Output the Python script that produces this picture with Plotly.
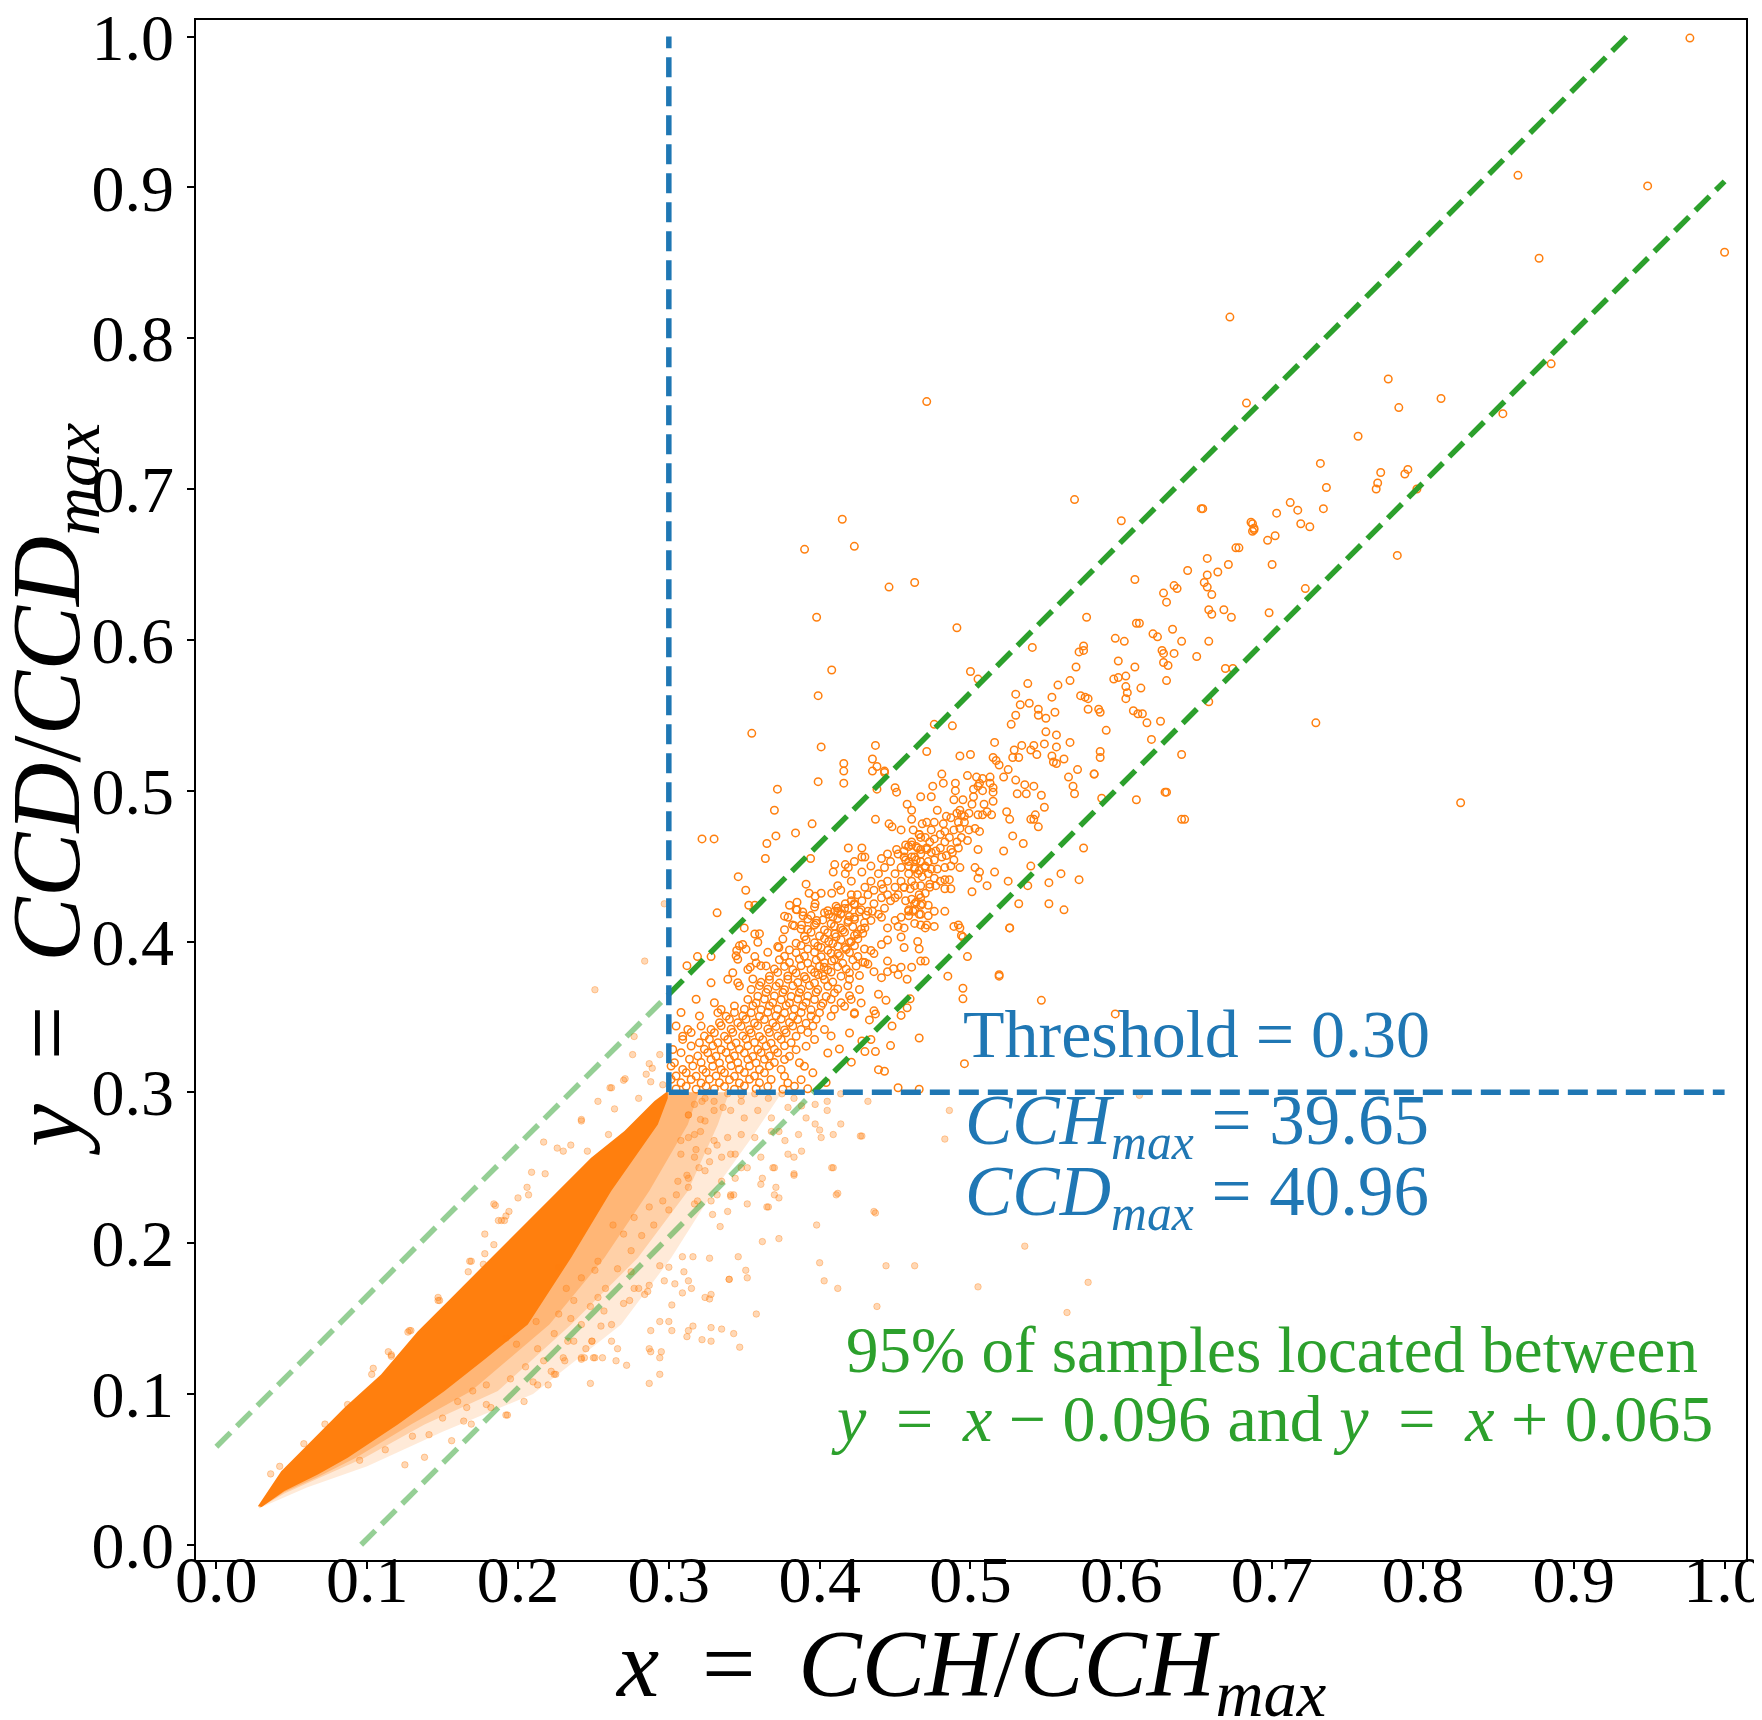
import plotly.graph_objects as go

ORANGE = '#ff7f0e'
BLUE = '#1f77b4'
GREEN = '#2ca02c'
FONT = 'Liberation Serif'
TS = '\u2009'  # thin space, for the wider math spacing

threshold = 0.30
cch_max = 39.65
ccd_max = 40.96
band_low = -0.096
band_high = 0.065
x_end = 1.0

tick_vals = [0.0, 0.1, 0.2, 0.3, 0.4, 0.5, 0.6, 0.7, 0.8, 0.9, 1.0]
tick_text = ['0.0', '0.1', '0.2', '0.3', '0.4', '0.5', '0.6', '0.7', '0.8', '0.9', '1.0']

# samples above the threshold (hollow markers)
upper_outliers = [
    (0.977, 0.999), (0.863, 0.908), (0.949, 0.901), (0.877, 0.853), (1.0, 0.857), (0.672, 0.814),
    (0.885, 0.783), (0.777, 0.773), (0.812, 0.760), (0.683, 0.757), (0.471, 0.758), (0.853, 0.750),
    (0.784, 0.754), (0.757, 0.735), (0.732, 0.717), (0.772, 0.711), (0.770, 0.704), (0.769, 0.700),
    (0.790, 0.713), (0.788, 0.710), (0.796, 0.700), (0.783, 0.656), (0.736, 0.701), (0.734, 0.687),
    (0.712, 0.691), (0.717, 0.686), (0.725, 0.675), (0.719, 0.677), (0.703, 0.684), (0.687, 0.672),
    (0.676, 0.661), (0.702, 0.669), (0.687, 0.677), (0.722, 0.634), (0.700, 0.650), (0.698, 0.618),
    (0.673, 0.615), (0.654, 0.687), (0.674, 0.581), (0.729, 0.545), (0.825, 0.492), (0.610, 0.494),
    (0.569, 0.693), (0.600, 0.679), (0.653, 0.687), (0.686, 0.678), (0.688, 0.674), (0.688, 0.673),
    (0.697, 0.666), (0.678, 0.661), (0.415, 0.680), (0.390, 0.660), (0.423, 0.662), (0.446, 0.635),
    (0.463, 0.638), (0.398, 0.615), (0.491, 0.608), (0.408, 0.580), (0.399, 0.563), (0.355, 0.538),
    (0.596, 0.352), (0.496, 0.319), (0.485, 0.377), (0.495, 0.369), (0.495, 0.362), (0.519, 0.377),
    (0.547, 0.361), (0.519, 0.378), (0.526, 0.409), (0.452, 0.303), (0.466, 0.302), (0.466, 0.336),
]

upper_mid = [
    (0.657, 0.654), (0.657, 0.643), (0.664, 0.645), (0.671, 0.650), (0.644, 0.646), (0.655, 0.638),
    (0.657, 0.635), (0.660, 0.630), (0.635, 0.636), (0.637, 0.634), (0.628, 0.631), (0.630, 0.625),
    (0.609, 0.640), (0.577, 0.615), (0.658, 0.620), (0.660, 0.617), (0.668, 0.620), (0.610, 0.611),
    (0.612, 0.611), (0.621, 0.604), (0.624, 0.602), (0.634, 0.607), (0.596, 0.601), (0.602, 0.599),
    (0.640, 0.599), (0.658, 0.599), (0.627, 0.593), (0.628, 0.591), (0.635, 0.591), (0.650, 0.589),
    (0.628, 0.585), (0.631, 0.583), (0.630, 0.573), (0.669, 0.581), (0.658, 0.559), (0.575, 0.596),
    (0.575, 0.593), (0.572, 0.592), (0.570, 0.582), (0.598, 0.586), (0.609, 0.582), (0.595, 0.574),
    (0.598, 0.575), (0.603, 0.576), (0.603, 0.569), (0.604, 0.565), (0.603, 0.561), (0.613, 0.568),
    (0.608, 0.553), (0.611, 0.551), (0.614, 0.551), (0.617, 0.545), (0.626, 0.546), (0.620, 0.534),
    (0.590, 0.540), (0.585, 0.554), (0.586, 0.552), (0.578, 0.554), (0.573, 0.563), (0.576, 0.562),
    (0.578, 0.561), (0.566, 0.573), (0.558, 0.570), (0.554, 0.562), (0.556, 0.552), (0.550, 0.539),
    (0.557, 0.537), (0.566, 0.532), (0.571, 0.514), (0.582, 0.511), (0.586, 0.526), (0.586, 0.522),
    (0.640, 0.524), (0.629, 0.499), (0.640, 0.481), (0.587, 0.495), (0.568, 0.503), (0.569, 0.498),
    (0.565, 0.509), (0.547, 0.497), (0.549, 0.489), (0.542, 0.481), (0.630, 0.499), (0.642, 0.481),
    (0.541, 0.595), (0.538, 0.571), (0.533, 0.557), (0.539, 0.558), (0.530, 0.564), (0.527, 0.544),
    (0.530, 0.550), (0.545, 0.554), (0.545, 0.550), (0.550, 0.548), (0.549, 0.531), (0.557, 0.529),
    (0.554, 0.523), (0.555, 0.519), (0.562, 0.521), (0.557, 0.518), (0.542, 0.530), (0.540, 0.527),
    (0.544, 0.524), (0.534, 0.530), (0.532, 0.522), (0.529, 0.527), (0.528, 0.522), (0.519, 0.517),
    (0.517, 0.520), (0.516, 0.532), (0.525, 0.514), (0.522, 0.509), (0.530, 0.507), (0.536, 0.504),
    (0.542, 0.503), (0.537, 0.498), (0.531, 0.498), (0.543, 0.484), (0.540, 0.481), (0.524, 0.486),
    (0.526, 0.481), (0.401, 0.529), (0.437, 0.530), (0.435, 0.521), (0.416, 0.518), (0.416, 0.513),
    (0.416, 0.505), (0.435, 0.513), (0.438, 0.516), (0.399, 0.506), (0.372, 0.501), (0.370, 0.487),
    (0.395, 0.478), (0.443, 0.512), (0.450, 0.502), (0.451, 0.499), (0.471, 0.526), (0.476, 0.544),
    (0.488, 0.543), (0.500, 0.579), (0.505, 0.574), (0.493, 0.523), (0.500, 0.524), (0.481, 0.511),
    (0.475, 0.503), (0.482, 0.505), (0.467, 0.496), (0.474, 0.496), (0.458, 0.491), (0.461, 0.487),
    (0.478, 0.487), (0.490, 0.505), (0.490, 0.500), (0.498, 0.510), (0.504, 0.509), (0.508, 0.508),
    (0.513, 0.509), (0.506, 0.505), (0.513, 0.505), (0.515, 0.502), (0.515, 0.499), (0.508, 0.500),
    (0.502, 0.501), (0.502, 0.496), (0.495, 0.494), (0.501, 0.491), (0.499, 0.485), (0.496, 0.483),
    (0.509, 0.491), (0.515, 0.493), (0.511, 0.486), (0.505, 0.484), (0.508, 0.484), (0.492, 0.479),
    (0.493, 0.487), (0.582, 0.511), (0.443, 0.513), (0.371, 0.470), (0.384, 0.472), (0.322, 0.468),
    (0.330, 0.468), (0.365, 0.465), (0.364, 0.455), (0.394, 0.455), (0.437, 0.481), (0.446, 0.478),
    (0.448, 0.476), (0.454, 0.474), (0.461, 0.481), (0.462, 0.474), (0.466, 0.471), (0.467, 0.469),
    (0.419, 0.462), (0.428, 0.462), (0.428, 0.456), (0.346, 0.443), (0.351, 0.434), (0.332, 0.419),
    (0.353, 0.424), (0.357, 0.424), (0.350, 0.409), (0.357, 0.405), (0.345, 0.394), (0.349, 0.398),
    (0.328, 0.390), (0.312, 0.384), (0.319, 0.390), (0.354, 0.383), (0.357, 0.390), (0.361, 0.384),
    (0.572, 0.441), (0.552, 0.439), (0.538, 0.437), (0.552, 0.425), (0.562, 0.421), (0.526, 0.409),
    (0.498, 0.390), (0.492, 0.411), (0.493, 0.409), (0.495, 0.403), (0.466, 0.395), (0.470, 0.387),
    (0.522, 0.460), (0.535, 0.465), (0.540, 0.450), (0.525, 0.440), (0.532, 0.425), (0.560, 0.445),
    (0.575, 0.462), (0.528, 0.470), (0.545, 0.476), (0.438, 0.501), (0.515, 0.522),
]

# band of samples between 0.45 and 0.52
upper_band = [
    (0.489, 0.494), (0.505, 0.503), (0.514, 0.484), (0.494, 0.484), (0.491, 0.485), (0.487, 0.482),
    (0.484, 0.483), (0.482, 0.478), (0.476, 0.479), (0.474, 0.474), (0.471, 0.479), (0.468, 0.478),
    (0.466, 0.471), (0.470, 0.469), (0.473, 0.466), (0.476, 0.468), (0.480, 0.471), (0.483, 0.473),
    (0.486, 0.469), (0.489, 0.474), (0.493, 0.475), (0.496, 0.479), (0.499, 0.474), (0.503, 0.475),
    (0.506, 0.473), (0.498, 0.467), (0.494, 0.469), (0.491, 0.466), (0.487, 0.461), (0.483, 0.466),
    (0.480, 0.462), (0.477, 0.460), (0.474, 0.459), (0.471, 0.461), (0.467, 0.461), (0.464, 0.463),
    (0.461, 0.466), (0.459, 0.463), (0.456, 0.460), (0.457, 0.454), (0.461, 0.456), (0.464, 0.454),
    (0.467, 0.453), (0.472, 0.453), (0.476, 0.454), (0.481, 0.456), (0.484, 0.457), (0.488, 0.459),
    (0.492, 0.462), (0.489, 0.454), (0.493, 0.449), (0.487, 0.450), (0.483, 0.449), (0.478, 0.448),
    (0.474, 0.448), (0.470, 0.450), (0.466, 0.447), (0.463, 0.448), (0.459, 0.450), (0.468, 0.443),
    (0.472, 0.445), (0.476, 0.442), (0.480, 0.440), (0.483, 0.441), (0.486, 0.441), (0.487, 0.435),
    (0.483, 0.435), (0.477, 0.437), (0.473, 0.438), (0.470, 0.432), (0.466, 0.431), (0.467, 0.437),
    (0.463, 0.437), (0.460, 0.435), (0.456, 0.436), (0.461, 0.428), (0.464, 0.426), (0.467, 0.424),
    (0.472, 0.424), (0.476, 0.420), (0.472, 0.417), (0.466, 0.418), (0.462, 0.420), (0.459, 0.421),
    (0.457, 0.427), (0.463, 0.412), (0.467, 0.411), (0.471, 0.411), (0.476, 0.410), (0.483, 0.420),
    (0.489, 0.410), (0.494, 0.404), (0.501, 0.433), (0.503, 0.449), (0.506, 0.446), (0.505, 0.442),
    (0.511, 0.437), (0.516, 0.446), (0.505, 0.461),
]

# densest part just above the threshold corner, read row by row
upper_rows = [
    [(0.380, 0.424), (0.3844, 0.4212), (0.3966, 0.4228), (0.4054, 0.4204), (0.4109, 0.4234),
     (0.4165, 0.4219), (0.4231, 0.4244), (0.4275, 0.421)],
    [(0.3767, 0.4168), (0.3888, 0.4196), (0.3943, 0.4172), (0.4032, 0.4191), (0.4087, 0.4162),
     (0.4142, 0.4186), (0.4198, 0.4166), (0.4264, 0.4197), (0.4308, 0.4174)],
    [(0.3921, 0.4149), (0.3977, 0.4121), (0.4021, 0.4143), (0.4076, 0.4118), (0.412, 0.4152),
     (0.4187, 0.4127), (0.4231, 0.4146), (0.4297, 0.4124)],
    [(0.3767, 0.4078), (0.3833, 0.4104), (0.3877, 0.4083), (0.3966, 0.4109), (0.4032, 0.4077),
     (0.4098, 0.4101), (0.4153, 0.4075), (0.422, 0.4098), (0.4275, 0.4082)],
    [(0.3601, 0.4052), (0.3899, 0.4033), (0.3943, 0.4061), (0.3999, 0.4036), (0.4054, 0.4058),
     (0.4109, 0.4031), (0.4165, 0.4062), (0.4231, 0.4039), (0.4286, 0.4055)],
    [(0.359, 0.3995), (0.3756, 0.4016), (0.3844, 0.3989), (0.391, 0.4012), (0.3966, 0.3991),
     (0.4032, 0.4019), (0.4087, 0.3987), (0.4142, 0.4011), (0.4198, 0.3993), (0.4253, 0.4017)],
    [(0.3468, 0.3971), (0.3512, 0.3948), (0.3722, 0.3966), (0.380, 0.3944), (0.3877, 0.3973),
     (0.3921, 0.3951), (0.3988, 0.3968), (0.4054, 0.3942), (0.412, 0.3969), (0.4176, 0.3947),
     (0.4231, 0.3972), (0.4297, 0.395)],
    [(0.3446, 0.3905), (0.3656, 0.3928), (0.3767, 0.3902), (0.3844, 0.3925), (0.3899, 0.3903),
     (0.3966, 0.3929), (0.401, 0.3899), (0.4076, 0.3922), (0.4131, 0.3906), (0.4198, 0.3927),
     (0.4253, 0.3901)],
    [(0.3457, 0.3882), (0.3579, 0.3858), (0.3733, 0.3879), (0.380, 0.3861), (0.3866, 0.3884),
     (0.3921, 0.3856), (0.3977, 0.3877), (0.4032, 0.3859), (0.4098, 0.3883), (0.4153, 0.3855),
     (0.422, 0.3878), (0.4286, 0.3862)],
    [(0.3524, 0.3814), (0.3645, 0.3838), (0.370, 0.3817), (0.3767, 0.3835), (0.3822, 0.3812),
     (0.3877, 0.3839), (0.3943, 0.3815), (0.3999, 0.3836), (0.4054, 0.3811), (0.412, 0.3833),
     (0.4176, 0.3818), (0.4242, 0.3837)],
    [(0.3424, 0.3793), (0.3667, 0.3769), (0.3722, 0.3795), (0.3789, 0.3771), (0.3844, 0.3791),
     (0.3899, 0.3768), (0.3966, 0.3794), (0.4021, 0.3773), (0.4076, 0.3797), (0.4142, 0.377),
     (0.4198, 0.3792), (0.4264, 0.3774)],
    [(0.328, 0.3726), (0.3391, 0.3749), (0.3457, 0.3727), (0.3557, 0.3751), (0.3612, 0.3729),
     (0.3667, 0.3747), (0.3733, 0.3724), (0.3789, 0.375), (0.3855, 0.3728), (0.391, 0.3752),
     (0.3966, 0.3725), (0.4032, 0.3748), (0.4087, 0.3731), (0.4198, 0.3749)],
    [(0.3468, 0.3705), (0.3546, 0.3682), (0.3601, 0.3707), (0.3656, 0.3684), (0.3711, 0.3704),
     (0.3767, 0.368), (0.3822, 0.3706), (0.3877, 0.3683), (0.3932, 0.3708), (0.3988, 0.3681),
     (0.4054, 0.3703), (0.412, 0.3685), (0.4187, 0.3706), (0.4264, 0.3682)],
    [(0.359, 0.3637), (0.3645, 0.3661), (0.370, 0.3639), (0.3756, 0.3662), (0.3811, 0.3636),
     (0.3866, 0.366), (0.3921, 0.3638), (0.3977, 0.3663), (0.4043, 0.3635), (0.4098, 0.3659),
     (0.4198, 0.364)],
    [(0.3181, 0.3617), (0.3302, 0.3594), (0.3524, 0.3616), (0.3579, 0.3593), (0.3634, 0.3618),
     (0.3689, 0.3595), (0.3745, 0.3614), (0.380, 0.3592), (0.3855, 0.3619), (0.391, 0.3596),
     (0.3966, 0.3615), (0.4021, 0.3591), (0.4076, 0.3617), (0.4142, 0.3594), (0.4209, 0.3616),
     (0.4275, 0.3593)],
    [(0.3347, 0.3549), (0.3435, 0.3573), (0.3501, 0.3551), (0.3557, 0.3574), (0.3612, 0.3548),
     (0.3667, 0.3572), (0.3722, 0.355), (0.3778, 0.3575), (0.3833, 0.3552), (0.3888, 0.3571),
     (0.3943, 0.3547), (0.401, 0.3573), (0.4098, 0.3551), (0.4165, 0.357)],
    [(0.3081, 0.3529), (0.3203, 0.3506), (0.3325, 0.3528), (0.338, 0.3505), (0.3435, 0.353),
     (0.349, 0.3507), (0.3546, 0.3527), (0.3601, 0.3504), (0.3656, 0.3531), (0.3711, 0.3508),
     (0.3767, 0.3526), (0.3822, 0.3503), (0.3877, 0.3529), (0.3943, 0.3506), (0.3999, 0.3528),
     (0.4076, 0.3505), (0.4231, 0.3527)],
    [(0.3336, 0.3461), (0.3402, 0.3484), (0.3457, 0.3462), (0.3512, 0.3485), (0.3568, 0.3459),
     (0.3634, 0.3483), (0.3689, 0.346), (0.3745, 0.3486), (0.380, 0.3463), (0.3855, 0.3482),
     (0.391, 0.3458), (0.3977, 0.3484)],
    [(0.3048, 0.344), (0.3126, 0.3417), (0.3214, 0.3439), (0.328, 0.3416), (0.3347, 0.3441),
     (0.3413, 0.3418), (0.3479, 0.3438), (0.3535, 0.3415), (0.359, 0.3442), (0.3656, 0.3419),
     (0.3711, 0.3437), (0.3767, 0.3414), (0.3822, 0.344), (0.3877, 0.3417), (0.3955, 0.3439),
     (0.4032, 0.3416)],
    [(0.3092, 0.3372), (0.3148, 0.3396), (0.3236, 0.3373), (0.3302, 0.3395), (0.3369, 0.3371),
     (0.3424, 0.3397), (0.349, 0.3374), (0.3546, 0.3394), (0.3601, 0.337), (0.3667, 0.3396),
     (0.3722, 0.3373), (0.3778, 0.3395), (0.3844, 0.3372), (0.3921, 0.3397), (0.4076, 0.3374),
     (0.4198, 0.3393)],
    [(0.3092, 0.3351), (0.3203, 0.3328), (0.3269, 0.3352), (0.3325, 0.3329), (0.3391, 0.335),
     (0.3446, 0.3327), (0.3512, 0.3353), (0.3568, 0.333), (0.3623, 0.3349), (0.3678, 0.3326),
     (0.3745, 0.3351), (0.3811, 0.3328), (0.3966, 0.335)],
    [(0.3026, 0.3284), (0.3148, 0.3307), (0.3236, 0.3285), (0.3291, 0.3308), (0.3347, 0.3283),
     (0.3413, 0.3306), (0.3468, 0.3286), (0.3524, 0.3309), (0.359, 0.3284), (0.3645, 0.3307),
     (0.370, 0.3285), (0.3767, 0.3308), (0.3844, 0.3283), (0.391, 0.3306), (0.4131, 0.3287)],
    [(0.3081, 0.3263), (0.3192, 0.324), (0.3258, 0.3262), (0.3313, 0.3239), (0.338, 0.3264),
     (0.3435, 0.3241), (0.3501, 0.3261), (0.3557, 0.3238), (0.3612, 0.3263), (0.3667, 0.324),
     (0.3722, 0.3262), (0.380, 0.3239), (0.4054, 0.3261)],
    [(0.3037, 0.3196), (0.3137, 0.3219), (0.3214, 0.3197), (0.328, 0.3218), (0.3336, 0.3195),
     (0.3402, 0.322), (0.3457, 0.3196), (0.3524, 0.3218), (0.3579, 0.3195), (0.3634, 0.3219),
     (0.370, 0.3197), (0.3767, 0.3217), (0.3866, 0.3196)],
    [(0.3015, 0.3174), (0.3092, 0.3151), (0.3159, 0.3175), (0.3225, 0.3152), (0.3291, 0.3173),
     (0.3347, 0.315), (0.3413, 0.3176), (0.3468, 0.3153), (0.3535, 0.3174), (0.3601, 0.3151),
     (0.3667, 0.3175), (0.3745, 0.3152), (0.3899, 0.3173)],
    [(0.3048, 0.3108), (0.3115, 0.313), (0.3181, 0.3107), (0.3247, 0.3131), (0.3313, 0.3109),
     (0.3369, 0.3129), (0.3435, 0.3106), (0.3501, 0.3131), (0.3568, 0.3108), (0.3634, 0.313),
     (0.3767, 0.3107), (0.3955, 0.3129)],
    [(0.3015, 0.3086), (0.3081, 0.3063), (0.3148, 0.3085), (0.3214, 0.3062), (0.3269, 0.3087),
     (0.3336, 0.3064), (0.3402, 0.3084), (0.3468, 0.3061), (0.3535, 0.3086), (0.3601, 0.3063),
     (0.3678, 0.3085), (0.3789, 0.3062), (0.3877, 0.3084), (0.4043, 0.3065)],
    [(0.3048, 0.3022), (0.3115, 0.304), (0.3181, 0.3021), (0.3247, 0.3041), (0.3302, 0.3023),
     (0.3369, 0.3039), (0.3435, 0.302), (0.3501, 0.3042), (0.3579, 0.3024), (0.3656, 0.3038),
     (0.3756, 0.3021), (0.3833, 0.304), (0.3921, 0.3023)],
]

upper_dense = [
    (0.379, 0.416), (0.382, 0.411), (0.388, 0.411), (0.392, 0.408), (0.398, 0.414), (0.373, 0.396),
    (0.385, 0.426), (0.385, 0.421), (0.391, 0.438), (0.393, 0.432), (0.397, 0.425), (0.397, 0.430),
    (0.401, 0.432), (0.408, 0.432), (0.409, 0.446), (0.412, 0.437), (0.417, 0.445), (0.417, 0.451),
    (0.389, 0.417), (0.406, 0.418), (0.410, 0.420), (0.414, 0.418), (0.419, 0.422), (0.423, 0.425),
    (0.428, 0.427), (0.432, 0.431), (0.436, 0.434), (0.441, 0.438), (0.445, 0.440), (0.450, 0.445),
    (0.454, 0.449), (0.459, 0.453), (0.463, 0.456), (0.467, 0.458), (0.470, 0.449), (0.465, 0.445),
    (0.461, 0.440), (0.456, 0.436), (0.452, 0.431), (0.447, 0.427), (0.443, 0.422), (0.439, 0.418),
    (0.434, 0.414), (0.430, 0.409), (0.425, 0.405), (0.421, 0.400), (0.417, 0.396), (0.412, 0.392),
    (0.408, 0.387), (0.403, 0.383), (0.399, 0.378), (0.401, 0.396), (0.406, 0.400), (0.410, 0.405),
    (0.414, 0.409), (0.419, 0.414), (0.423, 0.416), (0.432, 0.420), (0.436, 0.425), (0.441, 0.429),
    (0.445, 0.431), (0.450, 0.436), (0.454, 0.440), (0.459, 0.445), (0.463, 0.449), (0.467, 0.453),
    (0.471, 0.462), (0.465, 0.462), (0.461, 0.464), (0.456, 0.456), (0.452, 0.458), (0.447, 0.453),
    (0.443, 0.449), (0.439, 0.445), (0.434, 0.440), (0.430, 0.436), (0.425, 0.431), (0.421, 0.427),
    (0.417, 0.425), (0.412, 0.422), (0.414, 0.434), (0.421, 0.440), (0.428, 0.446), (0.434, 0.450),
    (0.441, 0.455), (0.445, 0.458), (0.451, 0.461), (0.457, 0.464), (0.423, 0.453), (0.430, 0.456),
    (0.419, 0.449), (0.410, 0.451), (0.445, 0.409), (0.450, 0.414), (0.454, 0.416), (0.459, 0.420),
    (0.463, 0.425), (0.467, 0.429), (0.454, 0.403), (0.456, 0.409), (0.467, 0.418), (0.441, 0.398),
    (0.436, 0.392), (0.432, 0.385), (0.445, 0.387), (0.456, 0.396), (0.465, 0.400), (0.470, 0.409),
    (0.467, 0.387), (0.461, 0.383), (0.452, 0.378), (0.433, 0.348), (0.437, 0.352), (0.448, 0.344),
    (0.423, 0.352), (0.434, 0.335), (0.437, 0.327), (0.428, 0.334), (0.439, 0.315), (0.443, 0.314),
    (0.430, 0.327), (0.421, 0.320), (0.447, 0.331), (0.454, 0.351), (0.458, 0.356), (0.460, 0.362),
    (0.458, 0.375), (0.439, 0.365), (0.444, 0.361), (0.436, 0.354), (0.445, 0.380), (0.449, 0.382),
    (0.454, 0.383), (0.441, 0.376), (0.436, 0.380), (0.430, 0.386), (0.434, 0.394), (0.445, 0.401),
    (0.441, 0.416), (0.452, 0.410), (0.459, 0.417), (0.463, 0.421), (0.473, 0.436), (0.468, 0.425),
    (0.450, 0.429), (0.442, 0.435), (0.435, 0.420), (0.421, 0.431), (0.412, 0.420),
]

# samples below the threshold (faint filled markers)
lower_fringe = [
    (0.317, 0.292), (0.324, 0.296), (0.330, 0.294), (0.339, 0.299), (0.348, 0.298), (0.357, 0.299),
    (0.366, 0.296), (0.375, 0.299), (0.383, 0.296), (0.313, 0.285), (0.321, 0.282), (0.330, 0.288),
    (0.341, 0.288), (0.350, 0.283), (0.359, 0.288), (0.368, 0.283), (0.379, 0.290), (0.388, 0.291),
    (0.397, 0.292), (0.405, 0.294), (0.414, 0.299), (0.313, 0.270), (0.321, 0.274), (0.330, 0.268),
    (0.339, 0.270), (0.348, 0.272), (0.357, 0.270), (0.368, 0.274), (0.377, 0.268), (0.386, 0.272),
    (0.397, 0.279), (0.405, 0.288), (0.308, 0.259), (0.317, 0.257), (0.326, 0.261), (0.335, 0.257),
    (0.344, 0.259), (0.352, 0.250), (0.361, 0.257), (0.370, 0.250), (0.379, 0.259), (0.388, 0.261),
    (0.401, 0.270), (0.408, 0.250), (0.414, 0.279), (0.428, 0.271), (0.432, 0.294), (0.486, 0.288),
    (0.313, 0.243), (0.324, 0.248), (0.335, 0.241), (0.344, 0.243), (0.361, 0.239), (0.370, 0.232),
    (0.383, 0.245), (0.411, 0.232), (0.436, 0.221), (0.341, 0.231), (0.352, 0.226), (0.319, 0.228),
    (0.339, 0.221), (0.366, 0.224), (0.612, 0.298), (0.483, 0.269), (0.427, 0.271), (0.409, 0.250),
    (0.412, 0.233), (0.437, 0.220), (0.383, 0.246), (0.373, 0.203), (0.400, 0.187), (0.403, 0.175),
    (0.536, 0.198), (0.505, 0.171), (0.578, 0.174), (0.564, 0.154), (0.463, 0.185), (0.444, 0.185),
    (0.438, 0.158), (0.412, 0.170), (0.362, 0.201), (0.365, 0.224), (0.398, 0.212), (0.351, 0.182),
    (0.340, 0.176), (0.358, 0.153), (0.346, 0.191), (0.343, 0.232), (0.373, 0.230), (0.371, 0.237),
    (0.362, 0.243), (0.383, 0.257), (0.369, 0.250), (0.373, 0.274), (0.391, 0.283), (0.400, 0.275),
    (0.409, 0.272), (0.341, 0.232), (0.328, 0.228), (0.329, 0.219), (0.334, 0.211), (0.309, 0.191),
    (0.316, 0.191), (0.327, 0.190), (0.294, 0.185), (0.300, 0.184), (0.340, 0.176), (0.352, 0.177),
    (0.328, 0.166), (0.327, 0.163), (0.304, 0.173), (0.309, 0.167), (0.313, 0.175), (0.287, 0.172),
    (0.284, 0.166), (0.277, 0.170), (0.274, 0.162), (0.294, 0.148), (0.288, 0.142), (0.300, 0.148),
    (0.316, 0.145), (0.328, 0.144), (0.312, 0.138), (0.322, 0.136), (0.335, 0.143), (0.343, 0.140),
    (0.347, 0.131), (0.287, 0.130), (0.294, 0.124), (0.262, 0.135), (0.266, 0.130), (0.256, 0.124),
    (0.265, 0.122), (0.272, 0.119), (0.242, 0.123), (0.245, 0.130), (0.249, 0.135), (0.287, 0.107),
    (0.294, 0.113), (0.225, 0.113), (0.248, 0.107), (0.242, 0.177), (0.251, 0.182), (0.253, 0.188),
    (0.227, 0.184), (0.232, 0.170), (0.237, 0.162), (0.253, 0.164), (0.263, 0.212), (0.270, 0.206),
    (0.277, 0.217), (0.287, 0.224), (0.296, 0.228), (0.306, 0.241), (0.313, 0.237), (0.320, 0.250),
    (0.327, 0.254), (0.317, 0.226), (0.332, 0.232), (0.308, 0.268), (0.317, 0.272), (0.332, 0.265),
    (0.341, 0.259), (0.348, 0.250), (0.313, 0.285), (0.324, 0.281), (0.336, 0.290), (0.348, 0.294),
    (0.322, 0.294), (0.251, 0.368), (0.284, 0.387), (0.297, 0.425), (0.277, 0.337), (0.276, 0.325),
    (0.289, 0.316), (0.287, 0.319), (0.294, 0.325), (0.285, 0.312), (0.296, 0.305), (0.270, 0.308),
    (0.261, 0.303), (0.253, 0.294), (0.242, 0.281), (0.230, 0.261), (0.218, 0.246), (0.206, 0.237),
    (0.194, 0.221), (0.187, 0.215), (0.178, 0.206), (0.168, 0.188), (0.147, 0.162), (0.128, 0.142),
    (0.114, 0.128), (0.104, 0.117), (0.185, 0.225), (0.189, 0.215), (0.192, 0.218), (0.178, 0.193),
    (0.169, 0.188), (0.177, 0.186), (0.148, 0.162), (0.127, 0.141), (0.116, 0.125), (0.192, 0.137),
    (0.199, 0.133), (0.217, 0.122), (0.222, 0.115), (0.230, 0.124), (0.242, 0.124), (0.250, 0.124),
    (0.237, 0.135), (0.220, 0.106), (0.192, 0.086), (0.179, 0.093), (0.166, 0.091), (0.164, 0.082),
    (0.179, 0.106), (0.141, 0.073), (0.233, 0.135), (0.212, 0.148), (0.227, 0.153), (0.242, 0.146),
    (0.195, 0.110), (0.205, 0.118), (0.213, 0.130), (0.224, 0.140), (0.235, 0.150), (0.248, 0.158),
    (0.258, 0.170), (0.266, 0.183), (0.275, 0.195), (0.282, 0.205), (0.290, 0.212), (0.300, 0.222),
    (0.305, 0.232), (0.312, 0.245), (0.318, 0.262), (0.160, 0.095), (0.170, 0.102), (0.150, 0.084),
    (0.130, 0.072), (0.112, 0.063), (0.095, 0.056), (0.210, 0.108), (0.255, 0.145), (0.270, 0.160),
    (0.184, 0.226), (0.191, 0.215), (0.200, 0.230), (0.207, 0.232), (0.209, 0.247), (0.217, 0.267),
    (0.226, 0.263), (0.235, 0.265), (0.242, 0.282), (0.246, 0.261), (0.260, 0.272), (0.262, 0.303),
    (0.271, 0.309), (0.280, 0.296), (0.288, 0.307), (0.264, 0.289), (0.275, 0.181), (0.280, 0.170),
    (0.286, 0.168), (0.297, 0.175), (0.302, 0.159), (0.310, 0.181), (0.315, 0.170), (0.324, 0.164),
    (0.328, 0.135), (0.313, 0.142), (0.302, 0.142), (0.288, 0.128), (0.295, 0.128), (0.257, 0.155),
    (0.262, 0.146), (0.249, 0.135), (0.244, 0.124), (0.251, 0.124), (0.231, 0.122), (0.224, 0.113),
    (0.213, 0.106), (0.204, 0.095), (0.193, 0.086), (0.182, 0.091), (0.169, 0.080), (0.156, 0.069),
    (0.138, 0.058), (0.125, 0.053), (0.036, 0.047), (0.042, 0.052), (0.058, 0.067), (0.072, 0.080),
    (0.087, 0.093), (0.103, 0.113), (0.116, 0.126), (0.129, 0.142), (0.147, 0.164), (0.167, 0.181),
    (0.184, 0.199),
]

# outline of the saturated part of the cloud below the threshold
core_outline = [
    (0.0275, 0.0256), (0.043, 0.0488), (0.0628, 0.0687), (0.0849, 0.0908), (0.1092, 0.1129),
    (0.1336, 0.1416), (0.1557, 0.1637), (0.1822, 0.1903), (0.2043, 0.2124), (0.2264, 0.2345),
    (0.2485, 0.2566), (0.2706, 0.2743), (0.2905, 0.2942), (0.2993, 0.3008), (0.2993, 0.296),
    (0.2927, 0.2787), (0.2618, 0.2345), (0.2352, 0.1903), (0.221, 0.168), (0.2065, 0.1461),
    (0.178, 0.123), (0.1513, 0.1019), (0.1203, 0.0798), (0.0871, 0.0577), (0.0673, 0.0466),
    (0.0451, 0.0356), (0.030, 0.025),
]

# outlines of the speckled halo beside it, densest first
halo_inner = [
    (0.028, 0.024), (0.0451, 0.035), (0.0673, 0.045), (0.0925, 0.0577), (0.129, 0.0798),
    (0.169, 0.1019), (0.2208, 0.1461), (0.2573, 0.1903), (0.287, 0.2345), (0.3126, 0.2787),
    (0.320, 0.300), (0.300, 0.300), (0.200, 0.200), (0.100, 0.100),
]
halo_mid = [
    (0.028, 0.024), (0.0451, 0.034), (0.0673, 0.044), (0.0982, 0.0577), (0.138, 0.0798),
    (0.1866, 0.1019), (0.2352, 0.1461), (0.2795, 0.1903), (0.3126, 0.2345), (0.3325, 0.2787),
    (0.340, 0.300), (0.300, 0.300), (0.200, 0.200), (0.100, 0.100),
]
halo_outer = [
    (0.028, 0.024), (0.060, 0.038), (0.100, 0.052), (0.150, 0.075), (0.210, 0.100),
    (0.2684, 0.1461), (0.3016, 0.1903), (0.330, 0.235), (0.355, 0.270), (0.375, 0.300),
    (0.300, 0.300), (0.200, 0.200), (0.100, 0.100),
]


def split(points):
    return [p[0] for p in points], [p[1] for p in points]


def dashed(x, y, color):
    return go.Scatter(x=x, y=y, mode='lines', hoverinfo='skip', showlegend=False,
                      line=dict(color=color, width=5.5, dash='20px,9px'))


traces = []
for outline, fill in [(halo_outer, 'rgba(255,127,14,0.16)'),
                      (halo_mid, 'rgba(255,127,14,0.24)'),
                      (halo_inner, 'rgba(255,127,14,0.32)'),
                      (core_outline, ORANGE)]:
    ox, oy = split(outline)
    traces.append(go.Scatter(x=ox, y=oy, mode='lines', fill='toself', fillcolor=fill,
                             line=dict(width=0), hoverinfo='skip', showlegend=False))

lx, ly = split(lower_fringe)
traces.append(go.Scatter(x=lx, y=ly, mode='markers', showlegend=False,
                         marker=dict(size=6.5, color='rgba(255,127,14,0.3)',
                                     line=dict(color='rgba(255,127,14,0.35)', width=1))))

upper_points = upper_outliers + upper_mid + upper_band + upper_dense
for row in upper_rows:
    upper_points = upper_points + row
ux, uy = split(upper_points)
traces.append(go.Scatter(x=ux, y=uy, mode='markers', showlegend=False,
                         marker=dict(symbol='circle-open', size=7.5, color=ORANGE,
                                     line=dict(color=ORANGE, width=1.5))))

# threshold box and the 95% band
light_green = 'rgba(44,160,44,0.5)'
traces.append(dashed([0.0, threshold], [band_high, threshold + band_high], light_green))
traces.append(dashed([threshold, x_end - band_high], [threshold + band_high, x_end], GREEN))
traces.append(dashed([-band_low, threshold - band_low], [0.0, threshold], light_green))
traces.append(dashed([threshold - band_low, x_end], [threshold, x_end + band_low], GREEN))
traces.append(dashed([threshold, threshold], [threshold, x_end], BLUE))
traces.append(dashed([threshold, x_end], [threshold, threshold], BLUE))

fig = go.Figure(data=traces)

axis_style = dict(tickvals=tick_vals, ticktext=tick_text, ticks='outside', ticklen=7, tickwidth=1.5,
                  tickcolor='black', showline=True, linecolor='black', linewidth=1.5, mirror=True,
                  showgrid=False, zeroline=False, automargin=False, ticklabeloverflow='allow',
                  tickfont=dict(family=FONT, size=66, color='black'))

eq = TS + '=' + TS
annotations = [
    dict(x=0.65, y=0.339, text='Threshold = %.2f' % threshold, font=dict(color=BLUE, size=68)),
    dict(x=0.65, y=0.278, text='<i>CCH</i><sub><i>max</i></sub> = %.2f' % cch_max,
         font=dict(color=BLUE, size=71)),
    dict(x=0.65, y=0.231, text='<i>CCD</i><sub><i>max</i></sub> = %.2f' % ccd_max,
         font=dict(color=BLUE, size=71)),
    dict(x=0.70, y=0.129, text='95% of samples located between', font=dict(color=GREEN, size=65)),
    dict(x=0.70, y=0.084,
         text='<i>y</i> %s <i>x</i> \u2212 %.3f and <i>y</i> %s <i>x</i> + %.3f'
              % (eq, -band_low, eq, band_high),
         font=dict(color=GREEN, size=66)),
]
for a in annotations:
    a.update(xref='x', yref='y', showarrow=False, xanchor='center', yanchor='middle')
    a['font'].update(family=FONT)

annotations.append(dict(xref='paper', yref='paper', x=0.5, y=0, yshift=-110, showarrow=False,
                        xanchor='center', yanchor='middle',
                        text='<i>x</i> %s <i>CCH</i>/<i>CCH</i><sub><i>max</i></sub>' % eq,
                        font=dict(family=FONT, size=95, color='black')))
annotations.append(dict(xref='paper', yref='paper', x=0, y=0.5, xshift=-143, showarrow=False,
                        xanchor='center', yanchor='middle', textangle=-90,
                        text='<i>y</i> %s <i>CCD</i>/<i>CCD</i><sub><i>max</i></sub>' % eq,
                        font=dict(family=FONT, size=97, color='black')))

fig.update_layout(width=1762, height=1720, autosize=False,
                  margin=dict(l=188, r=24, t=12, b=168),
                  plot_bgcolor='white', paper_bgcolor='white',
                  xaxis=dict(range=[-0.0135, 1.0142], ticklabelstandoff=-46, **axis_style),
                  yaxis=dict(range=[-0.0101, 1.011], **axis_style),
                  annotations=annotations)

fig.write_html("out.html")
